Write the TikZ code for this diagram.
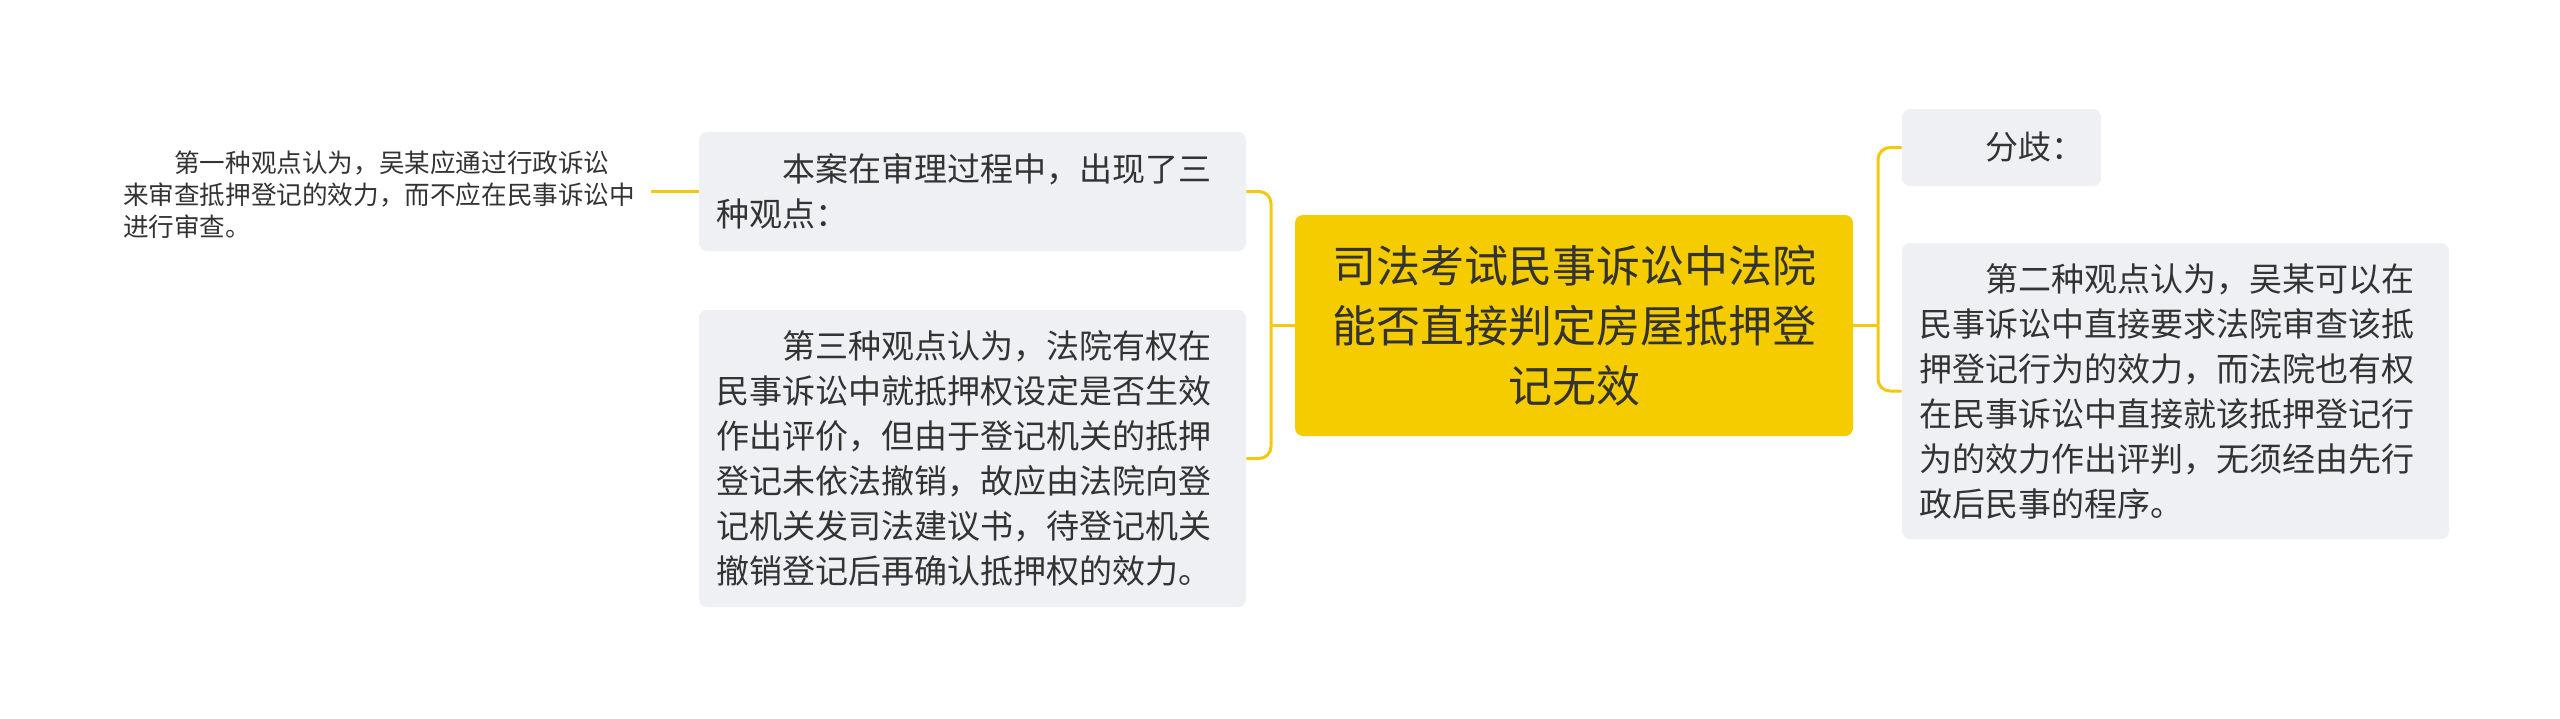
\documentclass[tikz,border=0pt]{standalone}
\usepackage{fontspec}
\setmainfont{Noto Sans CJK SC}

\definecolor{rootyellow}{HTML}{F5CC00}
\definecolor{boxgray}{HTML}{EEF0F3}
\definecolor{linkyellow}{HTML}{F2C811}
\definecolor{inkgray}{HTML}{333333}

\tikzset{
  topic/.style={fill=rootyellow, rounded corners=4pt, text=inkgray, align=center,
    minimum width=279pt, minimum height=110.5pt, inner sep=0pt,
    font=\fontsize{22pt}{30pt}\selectfont},
  leaf/.style={fill=boxgray, rounded corners=4pt, text=inkgray, align=left,
    inner xsep=8.5pt, inner ysep=0pt, font=\fontsize{16.5pt}{22.5pt}\selectfont},
  note/.style={text=inkgray, align=left, inner xsep=8pt, inner ysep=0pt,
    text width=256pt, font=\fontsize{12.8pt}{16pt}\selectfont},
  link/.style={draw=linkyellow, line width=1.5pt, rounded corners=6pt}
}

\begin{document}
\begin{tikzpicture}[x=0.5pt, y=-0.5pt]
  \useasboundingbox (0,0) rectangle (2560,718);

  \node[topic] (root) at (1574,325.5)
    {司法考试民事诉讼中法院\\能否直接判定房屋抵押登\\记无效};

  % left side
  \node[leaf, text width=256.5pt, minimum height=59.5pt] (l1) at (972.5,191.5)
    {\hspace*{2em}本案在审理过程中，出现了三\\种观点：};
  \node[leaf, text width=256.5pt, minimum height=148.5pt] (l3) at (972.5,458.5)
    {\hspace*{2em}第三种观点认为，法院有权在\\民事诉讼中就抵押权设定是否生效\\作出评价，但由于登记机关的抵押\\登记未依法撤销，故应由法院向登\\记机关发司法建议书，待登记机关\\撤销登记后再确认抵押权的效力。};
  \node[note] (l2) at (379,195)
    {\hspace*{2em}第一种观点认为，吴某应通过行政诉讼\\来审查抵押登记的效力，而不应在民事诉讼中\\进行审查。};

  % right side
  \node[leaf, text width=82.5pt, minimum height=38.5pt] (r1) at (2001.5,147.5)
    {\hspace*{2em}分歧：};
  \node[leaf, text width=256.5pt, minimum height=148pt] (r2) at (2175.5,391)
    {\hspace*{2em}第二种观点认为，吴某可以在\\民事诉讼中直接要求法院审查该抵\\押登记行为的效力，而法院也有权\\在民事诉讼中直接就该抵押登记行\\为的效力作出评判，无须经由先行\\政后民事的程序。};

  \coordinate (lj) at (1271,325.5);
  \coordinate (rj) at (1878,325.5);

  \draw[link] (root.west) -- (lj);
  \draw[link] (lj) |- (l1.east);
  \draw[link] (lj) |- (l3.east);
  \draw[link] (l1.west) -- (l2.east |- l1.west);

  \draw[link] (root.east) -- (rj);
  \draw[link] (rj) |- (r1.west);
  \draw[link] (rj) |- (r2.west);
\end{tikzpicture}
\end{document}
